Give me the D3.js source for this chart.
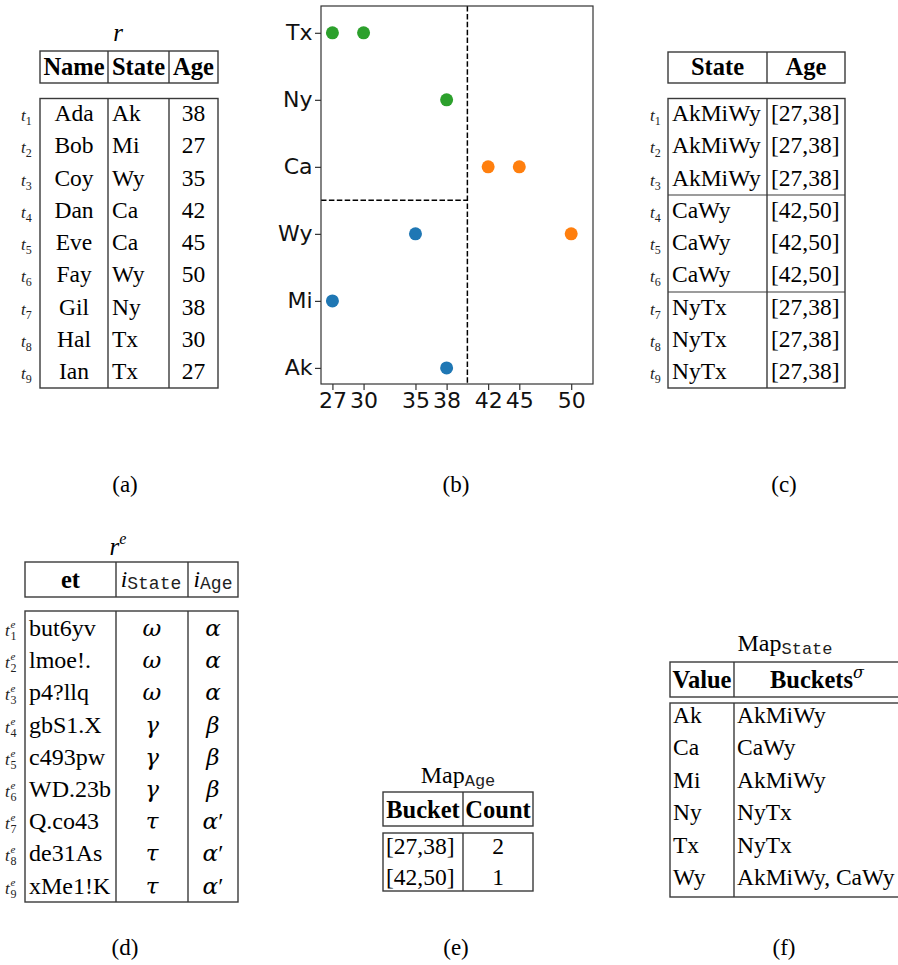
<!DOCTYPE html>
<html><head><meta charset="utf-8">
<script src="https://cdn.jsdelivr.net/npm/d3@7"></script>
<style>body{margin:0;background:#fff} svg{display:block}</style>
</head><body>
<svg id="fig" width="898" height="965"></svg>
<script>
// relation r
const names = ["Ada","Bob","Coy","Dan","Eve","Fay","Gil","Hal","Ian"];
const states = ["Ak","Mi","Wy","Ca","Ca","Wy","Ny","Tx","Tx"];
const ages = [38,27,35,42,45,50,38,30,27];
// generalised relation
const stateBuckets = ["AkMiWy","AkMiWy","AkMiWy","CaWy","CaWy","CaWy","NyTx","NyTx","NyTx"];
const ageBuckets = ["[27,38]","[27,38]","[27,38]","[42,50]","[42,50]","[42,50]","[27,38]","[27,38]","[27,38]"];
// encrypted relation r^e
const encTokens = ["but6yv","lmoe!.","p4?llq","gbS1.X","c493pw","WD.23b","Q.co43","de31As","xMe1!K"];
const encState = ["ω","ω","ω","γ","γ","γ","τ","τ","τ"];
const encAge = ["α","α","α","β","β","β","α′","α′","α′"];
// bucket maps
const mapAgeBuckets = ["[27,38]","[42,50]"];
const mapAgeCounts = [2,1];
const mapStateValues = ["Ak","Ca","Mi","Ny","Tx","Wy"];
const mapStateBuckets = ["AkMiWy","CaWy","AkMiWy","NyTx","NyTx","AkMiWy, CaWy"];
// scatter axes
const stateOrder = ["Ak","Mi","Wy","Ca","Ny","Tx"];
const ageTicks = [27,30,35,38,42,45,50];
const ageSplit = 40;
const stateSplit = 2.5;
const bucketColors = {"AkMiWy":"#1f77b4","CaWy":"#ff7f0e","NyTx":"#2ca02c"};
const panelLabels = ["(a)","(b)","(c)","(d)","(e)","(f)"];

const SERIF = "'Liberation Serif','Times New Roman',serif";
const GREEK = "'DejaVu Serif','Liberation Serif',serif";
const MONO = "'Liberation Mono','Courier New',monospace";
const SANS = "'DejaVu Sans',sans-serif";
const LINE = "#3a3a3a";
const BODY = 23.5, HEAD = 24.5;

const svg = d3.select("#fig");
svg.append("rect").attr("width",898).attr("height",965).attr("fill","#fff");

// ---- generic table helpers ----
function box(g, x0, x1, y0, y1, dividers, seps) {
  g.append("rect").attr("x",x0).attr("y",y0).attr("width",x1-x0).attr("height",y1-y0)
    .attr("fill","none").attr("stroke",LINE).attr("stroke-width",1.4);
  (dividers||[]).forEach(x => g.append("line").attr("x1",x).attr("x2",x).attr("y1",y0).attr("y2",y1)
    .attr("stroke",LINE).attr("stroke-width",1.4));
  (seps||[]).forEach(y => g.append("line").attr("x1",x0).attr("x2",x1).attr("y1",y).attr("y2",y)
    .attr("stroke",LINE).attr("stroke-width",1.2));
}
function txt(g, x, y, s, opt) {
  opt = opt || {};
  return g.append("text").attr("x",x).attr("y",y)
    .attr("text-anchor",opt.anchor||"start")
    .attr("font-family",opt.family||SERIF)
    .attr("font-size",opt.size||BODY)
    .attr("font-weight",opt.weight||"normal")
    .attr("font-style",opt.style||"normal")
    .attr("fill","#000").text(s);
}
// Greek symbol, with any trailing prime set in the roman serif face
function greek(g, x, y, s) {
  const t = g.append("text").attr("x",x).attr("y",y).attr("text-anchor","middle")
    .attr("font-size",23).attr("fill","#000");
  const base = s.replace("′","");
  t.append("tspan").attr("font-family",GREEK).attr("font-style","italic").text(base);
  if (s.includes("′")) t.append("tspan").attr("font-family",SERIF).attr("font-size",24).text("′");
}
function tLabel(g, x, y, i) {
  const t = g.append("text").attr("x",x).attr("y",y).attr("font-family",SERIF)
    .attr("font-size",17).attr("font-style","italic").attr("fill","#222");
  t.append("tspan").text("t");
  t.append("tspan").attr("dy",4).attr("font-size",12).attr("font-style","normal").text(i);
}
function teLabel(g, x, y, i) {
  txt(g, x, y, "t", {size:17, style:"italic"}).attr("fill","#222");
  txt(g, x+5.5, y-8, "e", {size:11, style:"italic"}).attr("fill","#222");
  txt(g, x+5.5, y+4, String(i), {size:12}).attr("fill","#222");
}
function subText(g, x, y, main, sub, opt) {
  const t = g.append("text").attr("x",x).attr("y",y).attr("text-anchor","middle")
    .attr("font-family",SERIF).attr("font-size",opt.size||BODY).attr("fill","#000");
  t.append("tspan").attr("font-style",opt.style||"normal").text(main);
  t.append("tspan").attr("dy",opt.dy||3).attr("font-family",MONO).attr("font-size",opt.subSize||17)
    .attr("fill","#222").text(sub);
  return t;
}

const rowBase = i => 121 + i*32.25;

// ---- (a) relation r ----
const ga = svg.append("g");
txt(ga, 118, 41, "r", {anchor:"middle", style:"italic", size:25});
box(ga, 40, 218, 51, 83, [108,169]);
box(ga, 40, 218, 98.5, 388, [108,169]);
txt(ga, 74, 75, "Name", {anchor:"middle", weight:"bold", size:HEAD});
txt(ga, 138.5, 75, "State", {anchor:"middle", weight:"bold", size:HEAD});
txt(ga, 193.5, 75, "Age", {anchor:"middle", weight:"bold", size:HEAD});
names.forEach((n,i) => {
  tLabel(ga, 21, rowBase(i), i+1);
  txt(ga, 74, rowBase(i), n, {anchor:"middle"});
  txt(ga, 112, rowBase(i), states[i]);
  txt(ga, 193.5, rowBase(i), String(ages[i]), {anchor:"middle"});
});

// ---- (c) generalised relation ----
const gc = svg.append("g");
box(gc, 668, 845, 52, 83, [767]);
box(gc, 668, 845, 98.5, 388, [767], [195, 292]);
txt(gc, 717.5, 75, "State", {anchor:"middle", weight:"bold", size:HEAD});
txt(gc, 806, 75, "Age", {anchor:"middle", weight:"bold", size:HEAD});
stateBuckets.forEach((s,i) => {
  tLabel(gc, 650, rowBase(i), i+1);
  txt(gc, 672, rowBase(i), s);
  txt(gc, 771, rowBase(i), ageBuckets[i]);
});

// ---- (b) scatter of State vs Age ----
const gb = svg.append("g");
const x = d3.scaleLinear().domain([25.9, 52.1]).range([321, 593]);
const y = d3.scaleLinear().domain([-0.24, 5.40]).range([384, 6]);
gb.append("line").attr("x1",x(ageSplit)).attr("x2",x(ageSplit)).attr("y1",y.range()[1]).attr("y2",y.range()[0])
  .attr("stroke","#000").attr("stroke-width",1.5).attr("stroke-dasharray","5.5,2.4");
gb.append("line").attr("x1",x.range()[0]).attr("x2",x(ageSplit)).attr("y1",y(stateSplit)).attr("y2",y(stateSplit))
  .attr("stroke","#000").attr("stroke-width",1.5).attr("stroke-dasharray","5.5,2.4");
gb.selectAll("circle.pt").data(ages).join("circle").attr("class","pt")
  .attr("cx", d => x(d))
  .attr("cy", (d,i) => y(stateOrder.indexOf(states[i])))
  .attr("r", 6.5)
  .attr("fill", (d,i) => bucketColors[stateBuckets[i]]);
gb.append("rect").attr("x",321).attr("y",6).attr("width",272).attr("height",378)
  .attr("fill","none").attr("stroke","#333").attr("stroke-width",1.2);
const yAxis = gb.append("g").attr("transform","translate(321,0)")
  .call(d3.axisLeft(y).tickValues(d3.range(stateOrder.length)).tickFormat(i => stateOrder[i]).tickSize(6).tickPadding(2.5));
const xAxis = gb.append("g").attr("transform","translate(0,384)")
  .call(d3.axisBottom(x).tickValues(ageTicks).tickFormat(d3.format("d")).tickSize(6).tickPadding(3));
[yAxis, xAxis].forEach(a => {
  a.select(".domain").remove();
  a.selectAll(".tick line").attr("stroke","#333").attr("stroke-width",1.2);
  a.selectAll(".tick text").attr("font-family",SANS).attr("font-size",22).attr("fill","#111");
});
xAxis.selectAll(".tick text").attr("dy","0.68em");

// ---- (d) encrypted relation ----
const gd = svg.append("g");
const eTitle = gd.append("text").attr("x",118).attr("y",555).attr("text-anchor","middle")
  .attr("font-family",SERIF).attr("font-size",25).attr("font-style","italic");
eTitle.append("tspan").text("r");
eTitle.append("tspan").attr("dy",-11).attr("font-size",16).text("e");
box(gd, 25, 238, 562, 597, [116,188]);
box(gd, 25, 238, 611, 902, [116,188]);
txt(gd, 70.5, 588, "et", {anchor:"middle", weight:"bold", size:HEAD});
subText(gd, 151, 587, "i", "State", {style:"italic", dy:2, subSize:18});
subText(gd, 213, 587, "i", "Age", {style:"italic", dy:2, subSize:18});
const eBase = i => 636 + i*32.2;
encTokens.forEach((t,i) => {
  teLabel(gd, 5, eBase(i), i+1);
  txt(gd, 29, eBase(i), t, {size:24});
  greek(gd, 152, eBase(i), encState[i]);
  greek(gd, 213, eBase(i), encAge[i]);
});

// ---- (e) Map_Age ----
const ge = svg.append("g");
subText(ge, 458, 783, "Map", "Age", {dy:3, subSize:17, size:24});
box(ge, 383, 533, 792, 826, [463]);
box(ge, 383, 533, 833, 891, [463]);
txt(ge, 423, 818, "Bucket", {anchor:"middle", weight:"bold", size:HEAD});
txt(ge, 498, 818, "Count", {anchor:"middle", weight:"bold", size:HEAD});
mapAgeBuckets.forEach((b,i) => {
  txt(ge, 386, 854 + i*31, b);
  txt(ge, 498, 854 + i*31, String(mapAgeCounts[i]), {anchor:"middle"});
});

// ---- (f) Map_State ----
const gf = svg.append("g");
subText(gf, 785, 651, "Map", "State", {dy:3, subSize:17, size:24});
box(gf, 670, 899, 662, 697, [734]);
box(gf, 670, 899, 703, 897, [734]);
txt(gf, 702, 688, "Value", {anchor:"middle", weight:"bold", size:HEAD});
const bh = gf.append("text").attr("x",817).attr("y",688).attr("text-anchor","middle")
  .attr("font-family",SERIF).attr("font-size",HEAD).attr("font-weight","bold");
bh.append("tspan").text("Buckets");
bh.append("tspan").attr("dy",-10).attr("font-size",16).attr("font-weight","normal")
  .attr("font-style","italic").attr("font-family",GREEK).text("σ");
mapStateValues.forEach((v,i) => {
  txt(gf, 673, 723 + i*32.4, v);
  txt(gf, 737, 723 + i*32.4, mapStateBuckets[i]);
});

// ---- panel captions ----
const capX = [125, 456, 784];
panelLabels.forEach((l,i) => {
  txt(svg, capX[i%3], i < 3 ? 492 : 955, l, {anchor:"middle", size:23});
});
</script>
</body></html>
